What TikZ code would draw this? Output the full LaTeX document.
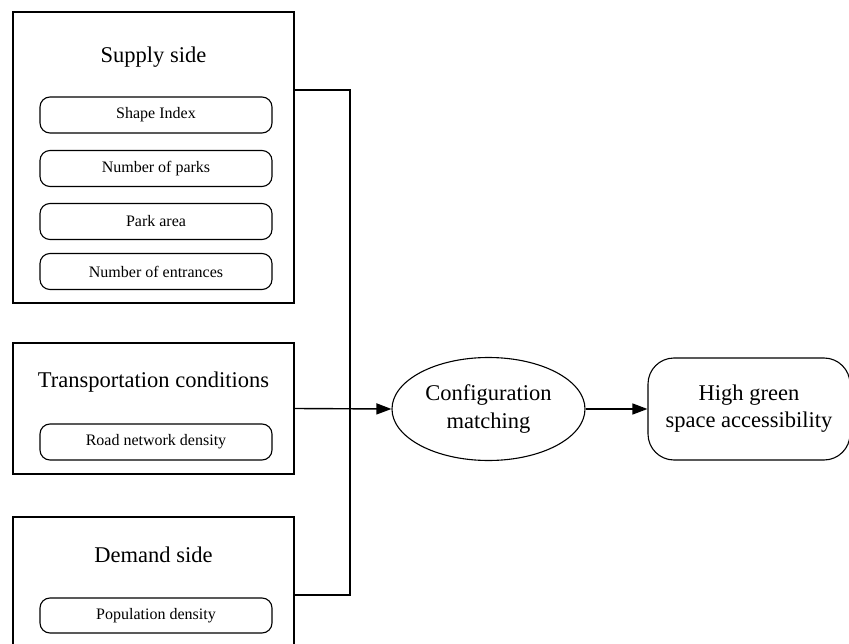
\documentclass[tikz,border=0pt]{standalone}
\usepackage{fontspec}
\setmainfont{Liberation Serif}
\usepackage{tikz}
\usetikzlibrary{shapes.geometric, arrows.meta, positioning, calc}

\begin{document}
\begin{tikzpicture}[
  x=1pt, y=-1pt,
  group/.style={rectangle, draw, line width=1.1pt, minimum width=281pt, inner sep=0pt},
  title/.style={anchor=base, font=\fontsize{22.5}{27}\selectfont},
  item/.style={rectangle, draw, rounded corners=10pt, line width=1.1pt, minimum width=232pt, minimum height=36pt, font=\fontsize{16}{19}\selectfont, inner sep=0pt},
  oval/.style={ellipse, draw, line width=1.1pt, minimum width=193pt, minimum height=103pt, align=center, inner sep=0pt, font=\fontsize{22.5}{28}\selectfont},
  goal/.style={rectangle, draw, rounded corners=26pt, line width=1.1pt, minimum width=202pt, minimum height=102pt, align=center, inner sep=0pt, font=\fontsize{22.5}{27}\selectfont},
  link/.style={line width=1.4pt},
  arrow/.style={-{Triangle[length=15pt, width=11pt]}, line width=1.4pt}
]
\useasboundingbox (0,0) rectangle (849,644);

% Left column: three groups with their indicators.
\node[group, minimum height=291pt] (supply) at (153.5,157.5) {};
\node[title] (supplyt) at (153.5,63) {Supply side};
\node[item] (shape) at (156,115) {Shape Index};
\node[item] (parks) at (156,168.5) {Number of parks};
\node[item] (area) at (156,221.5) {Park area};
\node[item] (entr) at (156,271.5) {Number of entrances};

\node[group, minimum height=131pt] (trans) at (153.5,408.5) {};
\node[title] (transt) at (153.5,388) {Transportation conditions};
\node[item] (road) at (156,442) {Road network density};

\node[group, minimum height=156pt] (demand) at (153.5,595) {};
\node[title] (demandt) at (153.5,562) {Demand side};
\node[item, minimum height=35pt] (pop) at (156,615.5) {Population density};

% Right side: matching and result.
\node[oval] (match) at (488.5,409) {Configuration\\matching};
\node[goal] (high) at (749,409) {High green\\space accessibility};

% Collector line between the groups and the ellipse.
\coordinate (hub) at (350,409);
\draw[link] ([yshift=67.5pt]supply.east) -| (hub) |- (demand.east);
\draw[arrow] (trans.east) -- (match.west);
\draw[arrow] (match.east) -- (high.west);

\end{tikzpicture}
\end{document}
